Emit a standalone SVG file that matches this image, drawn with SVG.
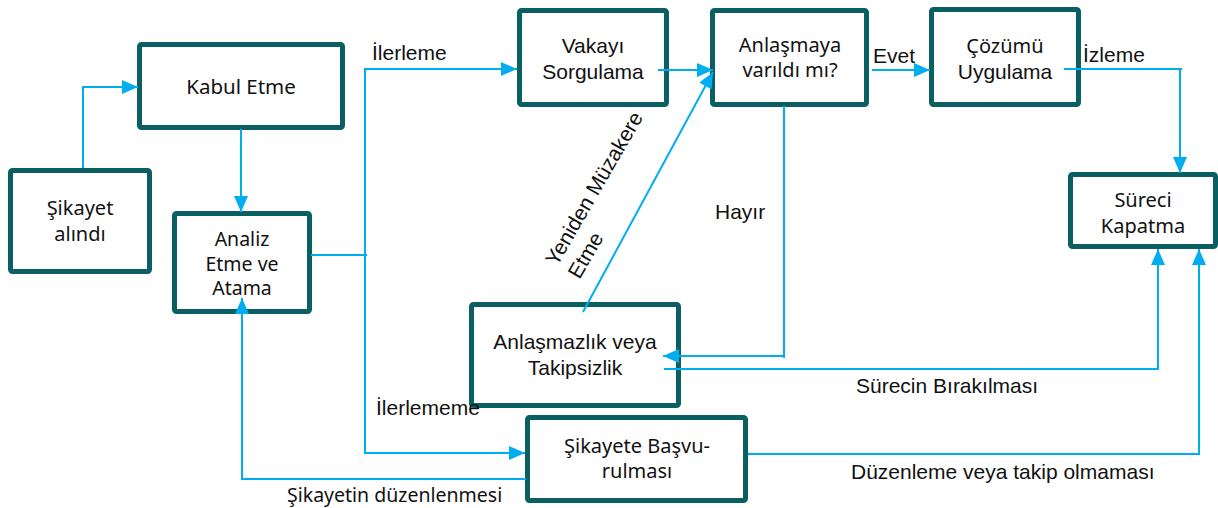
<svg xmlns="http://www.w3.org/2000/svg" width="1218" height="508" viewBox="0 0 1218 508">
<defs>
<style>
.box{fill:#ffffff;stroke:#0a5f63;stroke-width:5;}
.ln{fill:none;stroke:#00aeef;stroke-width:2;}
.ar{font-family:"Liberation Sans",Arial,sans-serif;font-size:21px;fill:#111111;}
.sg{font-family:"Noto Sans","Open Sans",sans-serif;font-size:20px;fill:#111111;}
.c{text-anchor:middle;}
</style>
<marker id="ah" markerUnits="userSpaceOnUse" viewBox="0 0 16 14" refX="16" refY="7" markerWidth="16" markerHeight="14" orient="auto">
<path d="M0,0 L16,7 L0,14 Z" fill="#00aeef"/>
</marker>
</defs>
<rect width="1218" height="508" fill="#ffffff"/>

<g id="n-sikayet">
<rect class="box" x="10.5" y="170.5" width="139" height="101" rx="2"/>
<text class="sg c" x="80" y="215">Şikayet</text>
<text class="sg c" x="80" y="241">alındı</text>
</g>
<g id="n-kabul">
<rect class="box" x="139.5" y="44.5" width="203" height="83" rx="2"/>
<text class="sg c" x="241" y="94" style="font-size:20.5px">Kabul Etme</text>
</g>
<g id="n-analiz">
<rect class="box" x="174.5" y="213.5" width="135" height="98" rx="2"/>
<text class="sg c" x="242" y="246" style="font-size:19.5px">Analiz</text>
<text class="sg c" x="242" y="270.5" style="font-size:19.5px">Etme ve</text>
<text class="sg c" x="242" y="295" style="font-size:19.5px">Atama</text>
</g>
<g id="n-vakayi">
<rect class="box" x="519.5" y="10.5" width="147" height="94" rx="2"/>
<text class="ar c" x="593" y="53">Vakayı</text>
<text class="ar c" x="593" y="79">Sorgulama</text>
</g>
<g id="n-anlasmaya">
<rect class="box" x="712.5" y="10.5" width="154" height="94" rx="2"/>
<text class="sg c" x="790" y="52">Anlaşmaya</text>
<text class="sg c" x="790" y="77">varıldı mı?</text>
</g>
<g id="n-cozumu">
<rect class="box" x="931.5" y="9.5" width="147" height="95" rx="2"/>
<text class="sg c" x="1005" y="53">Çözümü</text>
<text class="ar c" x="1005" y="79">Uygulama</text>
</g>
<g id="n-sureci">
<rect class="box" x="1070.5" y="174.5" width="145" height="72" rx="2"/>
<text class="sg c" x="1143" y="207">Süreci</text>
<text class="sg c" x="1143" y="233">Kapatma</text>
</g>
<g id="n-anlasmazlik">
<rect class="box" x="471.5" y="304.5" width="207" height="101" rx="2"/>
<text class="ar c" x="575" y="349">Anlaşmazlık veya</text>
<text class="ar c" x="575" y="375">Takipsizlik</text>
</g>
<g id="n-basvuru">
<rect class="box" x="527.5" y="417.5" width="218" height="83" rx="2"/>
<text class="sg c" x="637" y="453">Şikayete Başvu-</text>
<text class="sg c" x="637" y="478">rulması</text>
</g>

<g id="connectors">
<path class="ln" d="M83,168 V87 H138" marker-end="url(#ah)"/>
<path class="ln" d="M241,129 V212" marker-end="url(#ah)"/>
<path class="ln" d="M311,255 H367"/>
<path class="ln" d="M365,255 V69 H517" marker-end="url(#ah)"/>
<path class="ln" d="M365,255 V453 H525" marker-end="url(#ah)"/>
<path class="ln" d="M658,70 H713" marker-end="url(#ah)"/>
<path class="ln" d="M872,70 H930" marker-end="url(#ah)"/>
<path class="ln" d="M1064,69 H1182 M1180,69 V173" marker-end="url(#ah)"/>
<path class="ln" d="M784,106 V358 M785,356 H663" marker-end="url(#ah)"/>
<path class="ln" d="M583,312 L713,72" marker-end="url(#ah)"/>
<path class="ln" d="M664,369 H1158 V249" marker-end="url(#ah)"/>
<path class="ln" d="M748,454 H1199 V249" marker-end="url(#ah)"/>
<path class="ln" d="M526,479 H242 V298" marker-end="url(#ah)"/>
</g>

<g id="labels">
<text class="ar" x="372" y="60">İlerleme</text>
<text class="ar" x="873" y="63">Evet</text>
<text class="ar" x="1083" y="62">İzleme</text>
<text class="ar" x="715" y="219">Hayır</text>
<text class="ar" x="376" y="415">İlerlememe</text>
<text class="sg" x="287" y="502" style="font-size:19.5px">Şikayetin düzenlenmesi</text>
<text class="ar" x="856" y="393">Sürecin Bırakılması</text>
<text class="ar" x="851" y="479">Düzenleme veya takip olmaması</text>
<g transform="translate(557,267) rotate(-60)">
<text class="ar" x="0" y="0">Yeniden Müzakere</text>
<text class="ar" x="0" y="26">Etme</text>
</g>
</g>
</svg>
